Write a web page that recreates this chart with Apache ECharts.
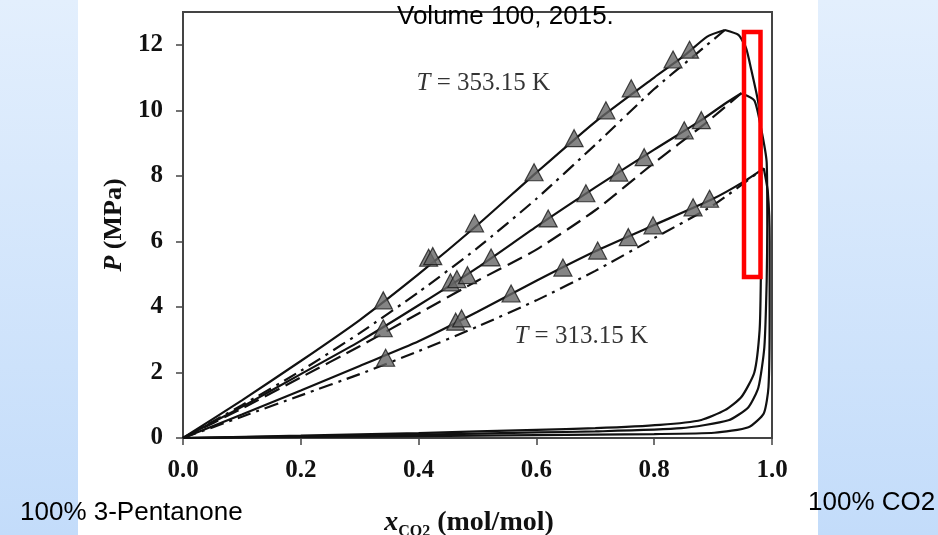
<!DOCTYPE html>
<html>
<head>
<meta charset="utf-8">
<script src="https://cdn.jsdelivr.net/npm/echarts@6/dist/echarts.min.js"></script>
<style>
html, body { margin: 0; padding: 0; background: #fff; }
#chart { width: 938px; height: 535px; }
</style>
</head>
<body>
<div id="chart"></div>
<script>
// x = CO2 mole fraction, y = pressure (MPa)
const xTickLabels = ['0.0', '0.2', '0.4', '0.6', '0.8', '1.0'];
const yTickLabels = ['0', '2', '4', '6', '8', '10', '12'];

// bubble curves (solid, drawn through the data)
const bubble353 = [[0,0],[0.1,1.15],[0.2,2.35],[0.3,3.6],[0.4,5.0],[0.5,6.5],[0.6,8.1],[0.7,9.65],[0.8,11.0],[0.85,11.65],[0.89,12.25],[0.92,12.45]];
const bubble333 = [[0,0],[0.1,0.95],[0.2,1.95],[0.3,2.95],[0.4,4.05],[0.5,5.2],[0.6,6.45],[0.7,7.65],[0.8,8.8],[0.88,9.7],[0.92,10.2],[0.948,10.52]];
const bubble313 = [[0,0],[0.1,0.72],[0.2,1.45],[0.3,2.2],[0.4,2.95],[0.5,3.85],[0.6,4.8],[0.7,5.7],[0.8,6.5],[0.9,7.3],[0.95,7.8],[0.986,8.23]];

// dew curves (from critical point back down to pure 3-pentanone)
const dew353 = [[0.92,12.45],[0.943,12.3],[0.956,11.9],[0.965,11.22],[0.977,10.2],[0.982,9.0],[0.982,7.0],[0.981,4.8],[0.979,3.3],[0.97,2.0],[0.948,1.25],[0.92,0.85],[0.88,0.55],[0.81,0.4],[0.7,0.3],[0.6,0.25],[0.4,0.15],[0.2,0.07],[0,0]];
const dew333 = [[0.948,10.52],[0.97,10.3],[0.982,9.4],[0.991,8.4],[0.992,6.5],[0.991,4.8],[0.987,2.77],[0.977,1.55],[0.96,0.94],[0.926,0.54],[0.846,0.3],[0.7,0.2],[0.6,0.17],[0.4,0.1],[0.2,0.05],[0,0]];
const dew313 = [[0.986,8.23],[0.993,7.5],[0.996,6.0],[0.996,3.8],[0.994,1.55],[0.986,0.75],[0.96,0.33],[0.902,0.16],[0.8,0.12],[0.6,0.09],[0.4,0.06],[0.2,0.03],[0,0]];

// model predictions
const model353 = [[0,0],[0.1,1.0],[0.2,2.05],[0.3,3.2],[0.4,4.45],[0.5,5.8],[0.6,7.3],[0.7,8.95],[0.8,10.65],[0.87,11.7],[0.92,12.45]];
const model333 = [[0,0],[0.1,0.9],[0.2,1.85],[0.3,2.8],[0.4,3.8],[0.5,4.8],[0.6,5.75],[0.7,6.95],[0.8,8.4],[0.88,9.5],[0.948,10.52]];
const model313 = [[0,0],[0.1,0.65],[0.2,1.3],[0.3,1.95],[0.4,2.65],[0.5,3.4],[0.6,4.2],[0.7,5.1],[0.8,6.1],[0.9,7.1],[0.986,8.23]];

// experimental points (triangles)
const exp353 = [[0.34,4.2],[0.417,5.5],[0.424,5.55],[0.495,6.55],[0.596,8.11],[0.664,9.15],[0.718,10.0],[0.761,10.67],[0.832,11.55],[0.86,11.85]];
const exp333 = [[0.34,3.35],[0.454,4.75],[0.465,4.85],[0.483,4.97],[0.523,5.51],[0.62,6.7],[0.684,7.47],[0.74,8.1],[0.783,8.57],[0.851,9.39],[0.88,9.7]];
const exp313 = [[0.344,2.45],[0.463,3.55],[0.473,3.65],[0.557,4.41],[0.645,5.2],[0.704,5.72],[0.756,6.13],[0.798,6.49],[0.866,7.04],[0.894,7.3]];

const noteTexts = ['353.15 K', '313.15 K'];
const notePos = [[0.51, 10.83], [0.676, 3.1]];

const serif = '"Liberation Serif", "Times New Roman", serif';
const sans = '"Liberation Sans", Arial, sans-serif';

const chart = echarts.init(document.getElementById('chart'));

function curve(data, type) {
  return {
    type: 'line', data: data, symbol: 'none', smooth: 0.2, silent: true, z: 3,
    lineStyle: { color: '#111', width: 2.2, type: type || 'solid' }
  };
}
function points(data) {
  return {
    type: 'scatter', data: data, symbol: 'triangle', symbolSize: [18, 17], z: 4,
    itemStyle: { color: '#666', borderColor: '#1a1a1a', borderWidth: 1.2 }
  };
}

const panelFill = new echarts.graphic.LinearGradient(0, 0, 0, 1, [
  { offset: 0, color: '#e3effd' }, { offset: 1, color: '#c3dcfa' }
]);

chart.setOption({
  animation: false,
  grid: {
    left: 183, right: 166, top: 12, bottom: 97, containLabel: false, outerBoundsMode: 'none',
    show: true, borderColor: '#444', borderWidth: 2
  },
  xAxis: {
    type: 'value', min: 0, max: 1, interval: 0.2,
    name: '{i|x}{s|CO2}{n| (mol/mol)}', nameLocation: 'middle', nameGap: 68,
    nameTextStyle: {
      padding: [0, 17, 0, 0],
      rich: {
        i: { fontFamily: serif, fontSize: 28, fontWeight: 'bold', fontStyle: 'italic', color: '#111', lineHeight: 34 },
        s: { fontFamily: serif, fontSize: 16, fontWeight: 'bold', color: '#111', verticalAlign: 'bottom', lineHeight: 34 },
        n: { fontFamily: serif, fontSize: 28, fontWeight: 'bold', color: '#111', lineHeight: 34 }
      }
    },
    axisLine: { show: true, lineStyle: { color: '#444', width: 2 } },
    axisTick: { show: true, length: 7, lineStyle: { color: '#444', width: 1.5 } },
    axisLabel: {
      margin: 20, fontFamily: serif, fontSize: 25, fontWeight: 'bold', color: '#111',
      formatter: v => xTickLabels[Math.round(v / 0.2)] || ''
    },
    splitLine: { show: false }
  },
  yAxis: {
    type: 'value', min: 0, max: 13, interval: 2,
    name: '{i|P}{n| (MPa)}', nameLocation: 'middle', nameGap: 52,
    nameTextStyle: {
      rich: {
        i: { fontFamily: serif, fontSize: 26, fontWeight: 'bold', fontStyle: 'italic', color: '#111' },
        n: { fontFamily: serif, fontSize: 26, fontWeight: 'bold', color: '#111' }
      }
    },
    axisLine: { show: true, lineStyle: { color: '#444', width: 2 } },
    axisTick: { show: true, length: 7, lineStyle: { color: '#444', width: 1.5 } },
    axisLabel: {
      margin: 20, fontFamily: serif, fontSize: 25, fontWeight: 'bold', color: '#111', showMaxLabel: false,
      formatter: v => (v % 2 === 0 ? yTickLabels[v / 2] : '')
    },
    splitLine: { show: false }
  },
  series: [
    curve(bubble353), curve(bubble333), curve(bubble313),
    curve(dew353), curve(dew333), curve(dew313),
    curve(model353, [14, 6, 3, 6]), curve(model333, [16, 7]), curve(model313, [14, 6, 3, 6]),
    points(exp353), points(exp333), points(exp313),
    {
      type: 'scatter', symbolSize: 1, silent: true, z: 5,
      itemStyle: { color: 'rgba(0,0,0,0)' },
      data: notePos.map((p, i) => ({ value: p, name: noteTexts[i] })),
      label: {
        show: true, position: 'inside', textBorderWidth: 0,
        formatter: p => '{i|T}{n| = ' + p.name + '}',
        rich: {
          i: { fontFamily: serif, fontSize: 25, fontStyle: 'italic', color: '#000', textBorderWidth: 0 },
          n: { fontFamily: serif, fontSize: 25, color: '#000', textBorderWidth: 0 }
        }
      }
    }
  ],
  graphic: [
    { type: 'rect', z: 0, shape: { x: 0, y: 0, width: 78, height: 535 }, style: { fill: panelFill } },
    { type: 'rect', z: 0, shape: { x: 818, y: 0, width: 120, height: 535 }, style: { fill: panelFill } },
    { type: 'rect', z: 100, shape: { x: 744, y: 32, width: 16.5, height: 245 }, style: { fill: null, stroke: '#ff0000', lineWidth: 4.5 } },
    { type: 'text', z: 100, x: 397, y: 17, style: { text: 'Volume 100, 2015.', font: '26px ' + sans, fill: '#000', align: 'left', verticalAlign: 'middle' } },
    { type: 'text', z: 100, x: 20, y: 513, style: { text: '100% 3-Pentanone', font: '26px ' + sans, fill: '#000', align: 'left', verticalAlign: 'middle' } },
    { type: 'text', z: 100, x: 808, y: 503, style: { text: '100% CO2', font: '26px ' + sans, fill: '#000', align: 'left', verticalAlign: 'middle' } }
  ]
});
</script>
</body>
</html>
